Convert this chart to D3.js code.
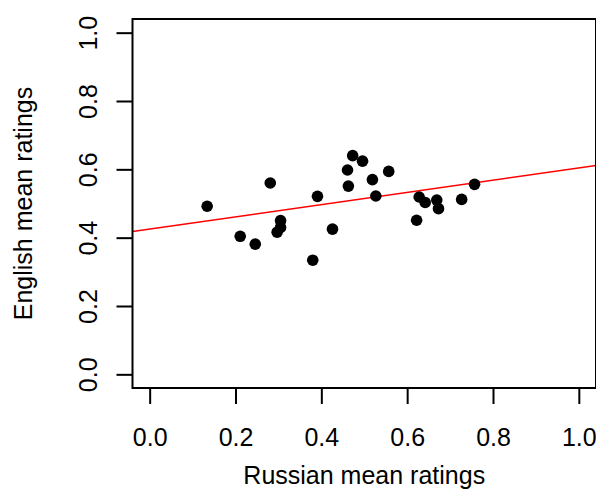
<!DOCTYPE html>
<html>
<head>
<meta charset="utf-8">
<script src="https://cdn.jsdelivr.net/npm/d3@7"></script>
<style>
  body { margin: 0; background: #fff; }
  text { font-family: "Liberation Sans", Arial, sans-serif; fill: #000; }
</style>
</head>
<body>
<svg></svg>
<script>
// mean ratings per item
var russian = [0.134, 0.211, 0.246, 0.281, 0.297, 0.305, 0.305, 0.380, 0.391, 0.426,
               0.461, 0.463, 0.473, 0.496, 0.519, 0.527, 0.557, 0.622, 0.628, 0.642,
               0.669, 0.673, 0.727, 0.757];
var english = [0.492, 0.404, 0.381, 0.560, 0.416, 0.450, 0.430, 0.334, 0.521, 0.425,
               0.598, 0.551, 0.640, 0.624, 0.570, 0.522, 0.594, 0.451, 0.519, 0.503,
               0.510, 0.485, 0.512, 0.556];
var ticks = [0, 0.2, 0.4, 0.6, 0.8, 1.0];
// fitted line (intercept, slope)
var fitIntercept = 0.425;
var fitSlope = 0.179;

var screen = {width:596, height:491};
var box = {left:132.5, right:596, top:19, bottom:388};

var svg = d3.select("svg")
    .attr("width", screen.width)
    .attr("height", screen.height);

var xScale = d3.scaleLinear()
    .domain([-0.04, 1.04])
    .range([box.left, box.right]);

var yScale = d3.scaleLinear()
    .domain([-0.04, 1.04])
    .range([box.bottom, box.top]);

// clip for regression line
svg.append("clipPath").attr("id", "plotclip")
    .append("rect")
    .attr("x", box.left).attr("y", box.top)
    .attr("width", box.right - box.left)
    .attr("height", box.bottom - box.top);

// regression line
svg.append("line")
    .attr("clip-path", "url(#plotclip)")
    .attr("x1", xScale(-0.04))
    .attr("y1", yScale(fitIntercept + fitSlope * -0.04))
    .attr("x2", xScale(1.04))
    .attr("y2", yScale(fitIntercept + fitSlope * 1.04))
    .attr("stroke", "#ff0000")
    .attr("stroke-width", 1.6);

// points
svg.append("g")
    .selectAll("circle")
    .data(russian)
    .enter()
    .append("circle")
    .attr("cx", function(d){ return xScale(d); })
    .attr("cy", function(d, i){ return yScale(english[i]); })
    .attr("r", 5.8)
    .attr("fill", "#000");

// box
svg.append("rect")
    .attr("x", box.left).attr("y", box.top)
    .attr("width", box.right - box.left)
    .attr("height", box.bottom - box.top)
    .attr("fill", "none")
    .attr("stroke", "#000")
    .attr("stroke-width", 2);

// x axis
var xAxis = d3.axisBottom(xScale)
    .tickValues(ticks)
    .tickSize(16)
    .tickPadding(0)
    .tickFormat(d3.format(".1f"));

var gx = svg.append("g")
    .attr("transform", "translate(0," + box.bottom + ")")
    .call(xAxis);
gx.select(".domain").remove();
gx.selectAll(".tick line").attr("stroke", "#000").attr("stroke-width", 2);
gx.selectAll(".tick text")
    .attr("y", 58)
    .attr("dy", null)
    .style("font-size", "25px")
    .style("font-family", "Liberation Sans, Arial, sans-serif");

// y axis
var yAxis = d3.axisLeft(yScale)
    .tickValues(ticks)
    .tickSize(16)
    .tickFormat(d3.format(".1f"));

var gy = svg.append("g")
    .attr("transform", "translate(" + box.left + ",0)")
    .call(yAxis);
gy.select(".domain").remove();
gy.selectAll(".tick line").attr("stroke", "#000").attr("stroke-width", 2);
gy.selectAll(".tick text")
    .attr("x", null).attr("dy", null)
    .attr("text-anchor", "middle")
    .attr("transform", "translate(-36,0) rotate(-90)")
    .style("font-size", "25px")
    .style("font-family", "Liberation Sans, Arial, sans-serif");

// labels
svg.append("text")
    .text("Russian mean ratings")
    .attr("text-anchor", "middle")
    .attr("x", (box.left + box.right) / 2)
    .attr("y", 484)
    .style("font-size", "25px");

svg.append("g")
    .attr("transform", "translate(32," + (box.top + box.bottom) / 2 + ")")
    .append("text")
    .text("English mean ratings")
    .attr("text-anchor", "middle")
    .attr("transform", "rotate(-90)")
    .style("font-size", "25px");
</script>
</body>
</html>
